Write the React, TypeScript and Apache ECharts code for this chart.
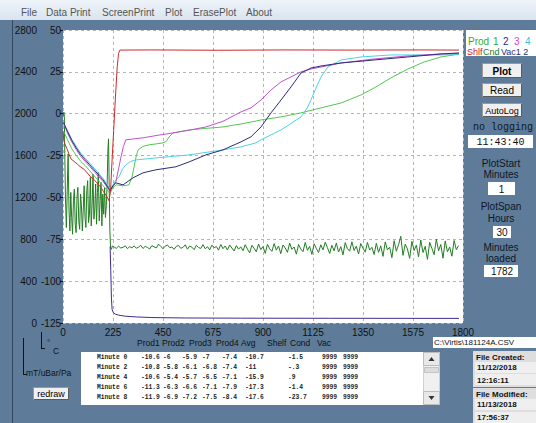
import React, { useEffect, useRef } from "react";
import * as echarts from "echarts";

// ---------- data ----------
const xMin = 0;
const xMax = 1800;
const xInterval = 225;
const tempMin = -125;
const tempMax = 50;
const tempInterval = 25;
const presMin = 0;
const presMax = 2800;
const presInterval = 400;

const shelf: [number, number][] = [
  [0, -10.7], [2, -11], [4, -15.9], [6, -17.3], [8, -17.6], [18, -21], [28, -24.5], [36, -27], [50, -28.5],
  [65, -30.2], [81, -32], [95, -33.2], [110, -35.5], [126, -38], [140, -39.5], [150, -40.8], [160, -42.5],
  [171, -44], [182, -46.5], [195, -49], [207, -52], [214, -46], [220, -30], [228, -10], [236, 10], [244, 28],
  [250, 36], [256, 38], [400, 38.1], [700, 37.9], [1000, 38.1], [1300, 38], [1600, 38.1], [1782, 38],
];

const prod1: [number, number][] = [
  [0, -10.6], [2, -10.8], [4, -10.6], [6, -11.3], [8, -11.9], [20, -15.5], [40, -21], [60, -25], [80, -28.5],
  [100, -31], [120, -34], [140, -37], [160, -40], [180, -43], [200, -46], [212, -47.5], [225, -44], [240, -42.5],
  [270, -43.1], [297, -42.5], [310, -38], [320, -31.7], [330, -25], [338, -21.6], [360, -19.5], [387, -18.6],
  [420, -18], [450, -17.4], [465, -16.5], [477, -13.9], [495, -11.5], [530, -10.6], [567, -9.7], [640, -8.8],
  [720, -7.9], [801, -6.1], [868, -4.4], [891, -3.7], [981, -1.9], [1071, 0.5], [1161, 3.5], [1251, 6.4],
  [1341, 11.2], [1400, 15.4], [1476, 21.4], [1552, 26.7], [1625, 30.9], [1701, 33.9], [1782, 35.6],
];

const prod2: [number, number][] = [
  [0, -6], [2, -5.8], [4, -5.4], [6, -6.3], [8, -6.9], [20, -10.5], [40, -16], [60, -20.5], [80, -24.5],
  [100, -27.5], [120, -30.5], [140, -33.5], [160, -36.5], [180, -39.5], [200, -43.5], [212, -46], [225, -43],
  [238, -41.3], [270, -42.5], [315, -38.3], [360, -35.3], [418, -33.5], [508, -31.7], [567, -28.8], [643, -24.6],
  [720, -21.6], [801, -16.8], [846, -13.8], [891, -7.9], [936, 0.5], [981, 8.2], [1026, 16], [1071, 24.3],
  [1116, 27.3], [1161, 28.5], [1251, 30.3], [1400, 32.1], [1552, 33.9], [1701, 35.7], [1782, 36.3],
];

const prod3: [number, number][] = [
  [0, -5.9], [2, -6.1], [4, -5.7], [6, -6.6], [8, -7.2], [20, -11.5], [40, -17], [60, -21.5], [80, -25.5],
  [100, -28.5], [120, -31.5], [140, -34.5], [160, -37.5], [180, -40.5], [200, -44], [212, -46], [225, -43],
  [238, -40.7], [250, -33], [261, -25.8], [272, -19.5], [283, -15.6], [320, -15], [360, -14.4], [430, -12.8],
  [495, -11.5], [570, -9.8], [643, -7.9], [720, -4.5], [801, 1.1], [846, 3.5], [891, 8.2], [936, 14.2],
  [981, 19], [1026, 22], [1071, 25], [1116, 26.7], [1161, 27.9], [1251, 30.3], [1400, 32.7], [1552, 34.5],
  [1701, 35.7], [1782, 36],
];

const prod4: [number, number][] = [
  [0, -7], [2, -6.8], [4, -6.5], [6, -7.1], [8, -7.5], [20, -10], [40, -15.5], [60, -19.5], [80, -23.5],
  [100, -26.5], [120, -29.5], [140, -32.5], [160, -35.5], [180, -38.5], [200, -42.5], [212, -45], [225, -42.5],
  [238, -39.5], [252, -37.7], [268, -33], [283, -30.5], [305, -28.5], [328, -27.6], [418, -26.4], [567, -24.6],
  [720, -21.6], [801, -19.8], [868, -17.4], [891, -15.6], [981, -9.7], [1071, -1.9], [1102, 4.1], [1129, 12.4],
  [1161, 22], [1192, 27.9], [1251, 32.1], [1341, 33.9], [1476, 35.1], [1701, 35.1], [1782, 35.4],
];

const condEarly: [number, number][] = [
  [0, -1.5], [2, -0.3], [4, 0.9], [6, -1.4], [8, -23.7], [11, -50], [15, -68], [19, -46], [23, -24],
  [27, -58], [31, -70], [35, -47], [39, -62], [43, -72], [47, -52], [51, -45], [55, -66], [59, -71],
  [63, -50], [67, -44], [71, -64], [75, -69], [79, -48], [83, -55], [87, -70], [91, -58], [95, -43],
  [99, -62], [103, -68], [107, -46], [111, -40], [115, -65], [119, -60], [123, -38], [127, -67], [131, -54],
  [135, -36], [139, -63], [143, -57], [147, -42], [151, -66], [155, -47], [159, -35], [163, -64], [167, -52],
  [171, -41], [175, -67], [179, -48], [183, -60], [187, -44], [191, -62], [195, -55], [199, -40], [202, -22],
  [205, -15], [208, -45], [211, -70], [214, -80], [218, -81], [222, -79],
];

// Cond values after minute 230, every 10 minutes
const condLateStart = 230;
const condLateStep = 10;
const condLate: number[] = [
  -79.6, -80.4, -79.1, -80.2, -79.8, -78.9, -80.6, -79.4, -80.1, -79.0,
  -80.3, -79.7, -78.6, -80.5, -79.2, -79.9, -80.8, -78.8, -79.5, -80.2,
  -77.9, -79.3, -80.6, -79.1, -78.4, -80.0, -79.6, -81.0, -79.2, -78.7,
  -80.4, -79.8, -78.3, -80.9, -79.0, -79.7, -81.2, -78.6, -79.9, -80.5,
  -78.2, -80.7, -79.4, -81.3, -78.5, -80.1, -79.3, -81.5, -78.1, -80.6,
  -79.0, -81.4, -78.4, -80.2, -82.0, -78.8, -80.9, -79.5,
  -81.8, -78.2, -80.9, -83.1, -78.6, -80.4, -82.5, -77.8, -81.2, -79.3,
  -83.4, -78.0, -80.7, -82.2, -77.6, -81.5, -79.0, -83.6, -78.4, -80.2,
  -82.8, -77.3, -81.0, -79.6, -83.9, -78.1, -80.8, -82.4, -76.9, -81.6,
  -79.2, -84.0, -77.7, -80.5, -82.9, -78.3, -81.3, -76.8, -80.0, -83.5,
  -78.6, -81.9, -77.2, -82.6, -79.4, -84.3, -77.0, -80.6, -82.1, -76.5,
  -81.7, -79.1, -83.8, -77.5, -80.3, -82.7, -76.9, -81.4, -79.8, -84.1,
  -77.4, -82.8, -78.9, -85.2, -76.6, -81.3, -79.7, -86.0, -75.8, -82.1,
  -78.3, -73.2, -84.6, -77.9, -80.8, -86.4, -76.2, -81.7, -78.5, -85.5,
  -75.4, -82.9, -79.2, -87.0, -76.8, -80.4, -84.2, -74.9, -81.9, -78.1,
  -86.3, -76.0, -82.4, -79.6, -85.1, -75.7, -81.2, -78.8,
];

const vac: [number, number][] = [
  [212, 730], [215, 500], [218, 230], [221, 130], [226, 100], [235, 85], [250, 75], [280, 65], [330, 58],
  [400, 52], [550, 48], [800, 46], [1200, 45], [1782, 44],
];

const menuItems = ["File", "Data Print", "ScreenPrint", "Plot", "ErasePlot", "About"];
const tableHeaders = ["Prod1", "Prod2", "Prod3", "Prod4", "Avg", "Shelf", "Cond", "Vac"];
const tableRows: string[][] = [
  ["Minute 0", "-10.6", "-6", "-5.9", "-7", "-7.4", "-10.7", "-1.5", "9999", "9999"],
  ["Minute 2", "-10.8", "-5.8", "-6.1", "-6.8", "-7.4", "-11", "-.3", "9999", "9999"],
  ["Minute 4", "-10.6", "-5.4", "-5.7", "-6.5", "-7.1", "-15.9", ".9", "9999", "9999"],
  ["Minute 6", "-11.3", "-6.3", "-6.6", "-7.1", "-7.9", "-17.3", "-1.4", "9999", "9999"],
  ["Minute 8", "-11.9", "-6.9", "-7.2", "-7.5", "-8.4", "-17.6", "-23.7", "9999", "9999"],
];

// ---------- layout ----------
const SANS = "Liberation Sans, Arial, sans-serif";
const MONO = "Liberation Mono, Courier New, monospace";
const BG = "#5e7c99";

const menuX = [21, 46, 102, 165, 193, 246];
const headerX = [137, 162, 189, 216, 241, 267, 290, 317];
const colX = [97, 141, 163, 182, 202, 222, 245, 288, 322, 343];

function txt(x: number, y: number, text: string, opt: any = {}) {
  return {
    type: "text",
    x,
    y,
    silent: true,
    style: {
      text,
      fill: opt.fill || "#111",
      font: opt.font || `10px ${SANS}`,
      textAlign: opt.align || "left",
      textVerticalAlign: "middle",
    },
  };
}
function rect(x: number, y: number, w: number, h: number, fill: string, stroke?: string) {
  return {
    type: "rect",
    silent: true,
    shape: { x, y, width: w, height: h },
    style: { fill, stroke: stroke || null, lineWidth: 1 },
  };
}
function line(x1: number, y1: number, x2: number, y2: number, stroke = "#111") {
  return { type: "line", silent: true, shape: { x1, y1, x2, y2 }, style: { stroke, lineWidth: 1 } };
}
function button(x: number, y: number, w: number, h: number, label: string, font: string) {
  return [
    rect(x + 0.5, y + 0.5, w, h, "#f0f0f0", "#9a9a9a"),
    line(x + 1, y + h + 0.5, x + w + 0.5, y + h + 0.5, "#5a5a5a"),
    line(x + w + 0.5, y + 1, x + w + 0.5, y + h + 0.5, "#5a5a5a"),
    txt(x + w / 2 + 0.5, y + h / 2 + 1, label, { font, align: "center", fill: "#000" }),
  ];
}

function buildGraphics() {
  const g: any[] = [];
  // menu bar
  g.push({
    type: "rect",
    silent: true,
    shape: { x: 0, y: 0, width: 536, height: 20 },
    style: {
      fill: new echarts.graphic.LinearGradient(0, 0, 0, 1, [
        { offset: 0, color: "#eef3f9" },
        { offset: 1, color: "#dae4ef" },
      ]),
    },
  });
  menuItems.forEach((m, i) => g.push(txt(menuX[i], 12, m, { fill: "#555", font: `10px ${SANS}` })));
  g.push(line(12.5, 20, 12.5, 423, "#34465a"));

  // legend box
  g.push(rect(466, 30, 70, 26, "#ffffff"));
  const lf = `10px ${SANS}`;
  g.push(txt(468, 41, "Prod", { fill: "#2fae2f", font: lf }));
  g.push(txt(493, 41, "1", { fill: "#2fae2f", font: lf }));
  g.push(txt(503, 41, "2", { fill: "#2a2a8a", font: lf }));
  g.push(txt(514, 41, "3", { fill: "#cc44cc", font: lf }));
  g.push(txt(525, 41, "4", { fill: "#3cc0dc", font: lf }));
  const lf2 = `9px ${SANS}`;
  g.push(txt(467, 52, "Shlf", { fill: "#cc2222", font: lf2 }));
  g.push(txt(483, 52, "Cnd", { fill: "#237d23", font: lf2 }));
  g.push(txt(501, 52, "Vac1 2", { fill: "#2c2c7c", font: lf2 }));

  // buttons
  g.push(...button(482, 63, 39, 14, "Plot", `bold 10px ${SANS}`));
  g.push(...button(482, 83, 39, 13, "Read", `10px ${SANS}`));
  g.push(...button(482, 103, 39, 13, "AutoLog", `9px ${SANS}`));

  g.push(txt(503, 127, "no logging", { font: `10px ${MONO}`, align: "center", fill: "#101820" }));
  g.push(rect(468, 135, 65, 13, "#ffffff"));
  g.push(txt(500.5, 142, "11:43:40", { font: `10px ${MONO}`, align: "center", fill: "#111" }));

  const pf = `10px ${SANS}`;
  g.push(txt(501, 163, "PlotStart", { font: pf, align: "center", fill: "#0e1624" }));
  g.push(txt(501, 174, "Minutes", { font: pf, align: "center", fill: "#0e1624" }));
  g.push(rect(488, 182, 27, 13, "#ffffff"));
  g.push(txt(501.5, 189, "1", { font: pf, align: "center" }));

  g.push(txt(501, 206, "PlotSpan", { font: pf, align: "center", fill: "#0e1624" }));
  g.push(txt(501, 218, "Hours", { font: pf, align: "center", fill: "#0e1624" }));
  g.push(rect(493, 226, 18, 12, "#ffffff"));
  g.push(txt(502, 232.5, "30", { font: pf, align: "center" }));

  g.push(txt(501, 247, "Minutes", { font: pf, align: "center", fill: "#0e1624" }));
  g.push(txt(501, 258, "loaded", { font: pf, align: "center", fill: "#0e1624" }));
  g.push(rect(484, 265, 34, 12, "#ffffff"));
  g.push(txt(502, 271.5, "1782", { font: pf, align: "center" }));

  // file path
  g.push(rect(433, 337, 103, 11, "#ffffff"));
  g.push(txt(434, 342.5, "C:\\Virtis\\181124A.CSV", { font: `8px ${SANS}`, fill: "#111" }));

  // table header
  tableHeaders.forEach((h, i) => g.push(txt(headerX[i], 343, h, { font: `8.5px ${SANS}`, fill: "#101010" })));

  // table
  g.push(rect(81, 352, 359, 53, "#ffffff"));
  tableRows.forEach((row, r) => {
    row.forEach((cell, c) => {
      g.push(txt(colX[c], 357.5 + r * 10, cell, { font: `bold 6.3px ${MONO}`, fill: "#222" }));
    });
  });
  // scrollbar
  g.push(rect(423.5, 352.5, 16, 52, "#f0f0f0", "#d0d0d0"));
  g.push(rect(423.5, 352.5, 16, 13, "#e8e8e8", "#bdbdbd"));
  g.push(rect(424.5, 367.5, 14, 5, "#dcdcdc", "#c4c4c4"));
  g.push(rect(423.5, 391.5, 16, 13, "#e8e8e8", "#bdbdbd"));
  g.push({ type: "polygon", silent: true, shape: { points: [[428.5, 361], [434.5, 361], [431.5, 357]] }, style: { fill: "#333" } });
  g.push({ type: "polygon", silent: true, shape: { points: [[428.5, 396], [434.5, 396], [431.5, 400]] }, style: { fill: "#333" } });

  // file created / modified
  g.push(rect(473, 351, 63, 36, "#dedede"));
  g.push(rect(475, 362, 61, 11, "#efefef"));
  g.push(rect(475, 374, 61, 11, "#efefef"));
  g.push(txt(476, 357, "File Created:", { font: `bold 8px ${SANS}`, fill: "#111" }));
  g.push(txt(477, 367.5, "11/12/2018", { font: `bold 8px ${SANS}`, fill: "#111" }));
  g.push(txt(477, 380, "12:16:11", { font: `bold 8px ${SANS}`, fill: "#111" }));
  g.push(rect(473, 388, 63, 35, "#dedede"));
  g.push(rect(475, 399, 61, 11, "#efefef"));
  g.push(rect(475, 412, 61, 11, "#efefef"));
  g.push(txt(476, 394, "File Modified:", { font: `bold 8px ${SANS}`, fill: "#111" }));
  g.push(txt(477, 404.5, "11/13/2018", { font: `bold 8px ${SANS}`, fill: "#111" }));
  g.push(txt(477, 417.5, "17:56:37", { font: `bold 8px ${SANS}`, fill: "#111" }));

  // unit markers
  g.push(line(23.5, 338, 23.5, 375));
  g.push(line(23.5, 374.5, 27, 374.5));
  g.push(txt(26, 373, "mT/uBar/Pa", { font: `8.5px ${SANS}`, fill: "#111" }));
  g.push(line(41.5, 332, 41.5, 349));
  g.push(line(41.5, 348.5, 45, 348.5));
  g.push(txt(47, 342, "°", { font: `8px ${SANS}`, fill: "#111" }));
  g.push(txt(53, 351, "C", { font: `8.5px ${SANS}`, fill: "#111" }));

  g.push(...button(33, 387, 35, 12, "redraw", `9px ${SANS}`));
  return g;
}

export default function App() {
  const ref = useRef<HTMLDivElement>(null);
  useEffect(() => {
    document.body.style.margin = "0";
    const chart = echarts.init(ref.current!, null, { renderer: "svg", width: 536, height: 423 });

    const condData: [number, number][] = condEarly.concat(
      condLate.map((v, i) => [condLateStart + i * condLateStep, v] as [number, number])
    );
    const dashed = { show: true, lineStyle: { color: "#b5b5b5", type: [3, 3] as any, width: 1 } };
    const plain = (v: number) => String(v);
    const mkLine = (name: string, data: any, color: string, yAxisIndex = 0) => ({
      name,
      type: "line",
      data,
      yAxisIndex,
      showSymbol: false,
      symbol: "none",
      lineStyle: { color, width: 1 },
      itemStyle: { color },
      silent: true,
    });

    chart.setOption({
      animation: false,
      backgroundColor: BG,
      textStyle: { fontFamily: SANS },
      grid: {
        show: true,
        backgroundColor: "#ffffff",
        borderWidth: 0,
        left: 63,
        top: 30,
        width: 400,
        height: 293,
      },
      xAxis: {
        type: "value",
        min: xMin,
        max: xMax,
        interval: xInterval,
        axisLine: { show: false },
        axisTick: { show: false },
        axisLabel: { color: "#111", fontSize: 10, margin: 4, fontFamily: SANS, formatter: plain },
        splitLine: dashed,
      },
      yAxis: [
        {
          type: "value",
          min: tempMin,
          max: tempMax,
          interval: tempInterval,
          position: "left",
          axisLine: { show: false },
          axisTick: { show: true, length: 3, lineStyle: { color: "#111" } },
          axisLabel: { color: "#111", fontSize: 10, margin: 2, fontFamily: SANS, formatter: plain },
          splitLine: dashed,
        },
        {
          type: "value",
          min: presMin,
          max: presMax,
          interval: presInterval,
          position: "left",
          axisLine: { show: false },
          axisTick: { show: false },
          axisLabel: { color: "#111", fontSize: 10, margin: 26, fontFamily: SANS, formatter: plain },
          splitLine: { show: false },
        },
      ],
      graphic: { elements: buildGraphics() },
      series: [
        mkLine("Cond", condData, "#237d23"),
        mkLine("Vac1", vac, "#3b2f8f", 1),
        mkLine("Prod1", prod1, "#52c852"),
        mkLine("Prod4", prod4, "#4fd2e2"),
        mkLine("Prod3", prod3, "#c24fd0"),
        mkLine("Prod2", prod2, "#2c2c7c"),
        mkLine("Shelf", shelf, "#cc2a2a"),
      ],
    });
    return () => chart.dispose();
  }, []);
  return <div ref={ref} style={{ width: 536, height: 423, position: "absolute", left: 0, top: 0 }} />;
}
